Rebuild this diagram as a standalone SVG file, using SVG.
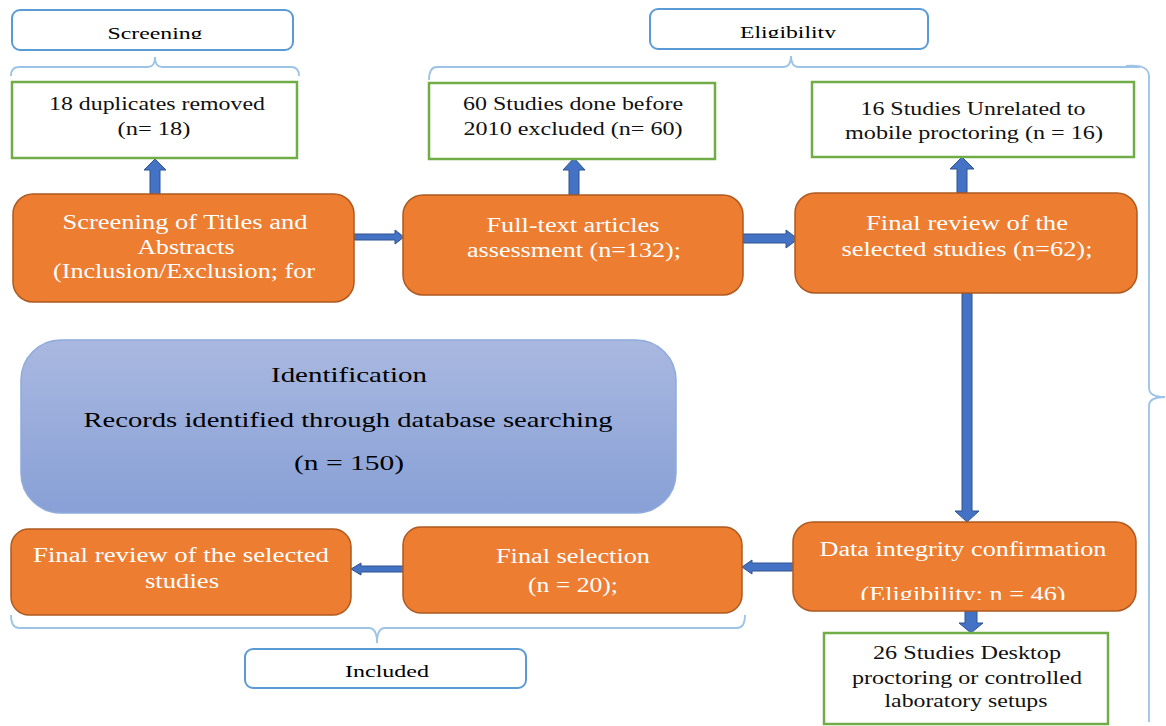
<svg xmlns="http://www.w3.org/2000/svg" width="1166" height="726" viewBox="0 0 1166 726">
<defs>
<style>
text{font-family:'Liberation Serif','DejaVu Serif','Times New Roman',serif}
.lbl{fill:#fff;stroke:#5b9bd5;stroke-width:2}
.lt{font-size:17px;fill:#000;text-anchor:middle}
.gbox{fill:#fff;stroke:#70ad47;stroke-width:2.5}
.gt{font-size:19px;fill:#111;text-anchor:middle}
.obox{fill:#ed7d31;stroke:#ae5a21;stroke-width:1.5}
.ot{font-size:20px;fill:#fff;text-anchor:middle}
.it{font-size:22px;fill:#000;text-anchor:middle}
.arr{fill:#4472c4;stroke:#2f528f;stroke-width:1}
.br{fill:none;stroke:#9dc3e6;stroke-width:1.8}
</style>
<linearGradient id="bg" x1="0" y1="0" x2="0" y2="1">
<stop offset="0" stop-color="#a9b8e0"/>
<stop offset="1" stop-color="#88a0d6"/>
</linearGradient>
<clipPath id="c1"><rect x="12" y="9" width="281" height="30"/></clipPath>
<clipPath id="c2"><rect x="650" y="9" width="278" height="29"/></clipPath>
<clipPath id="c3"><rect x="793" y="570" width="343" height="30"/></clipPath>
</defs>

<g id="connectors">
<path class="br" d="M11,76 Q11,67 19,67 L148,67 Q155,67 155,57 Q155,67 162,67 L291,67 Q299,67 299,76"/>
<path class="br" d="M429,80 Q429,67 437,67 L783,67 Q791,67 791,56 Q791,67 799,67 L1140,67"/>
<path class="br" d="M1126,66 Q1149,64 1149,76 L1149,388 Q1149,397 1165,397 Q1149,397 1149,406 L1149,722"/>
<path class="br" d="M11,615 Q11,628 19,628 L369,628 Q377,628 377,643 Q377,628 385,628 L737,628 Q745,628 745,615"/>
<polygon class="arr" points="150,195 150,170 144,170 155,159 166,170 160,170 160,195"/>
<polygon class="arr" points="569,195 569,170 563,170 574,158 585,170 579,170 579,195"/>
<polygon class="arr" points="957,193 957,169 950,169 962,157 974,169 967,169 967,193"/>
<polygon class="arr" points="354,234 395,234 395,230 404,237 395,244 395,240 354,240"/>
<polygon class="arr" points="743,234 786,234 786,230 798,239 786,248 786,243 743,243"/>
<polygon class="arr" points="962,293 962,511 955,511 967,522 979,511 972,511 972,293"/>
<polygon class="arr" points="965,611 965,623 959,623 971,633 983,623 977,623 977,611"/>
<polygon class="arr" points="797,563 752,563 752,560 742,567 752,574 752,571 797,571"/>
<polygon class="arr" points="404,566 361,566 361,563 351,569 361,575 361,572 404,572"/>
</g>

<g id="screening-label">
<rect class="lbl" x="12" y="10" width="281" height="40" rx="8"/>
<text class="lt" x="155" y="39" textLength="95" lengthAdjust="spacingAndGlyphs" clip-path="url(#c1)">Screening</text>
</g>

<g id="eligibility-label">
<rect class="lbl" x="650" y="9" width="278" height="40" rx="8"/>
<text class="lt" x="788" y="38" textLength="96" lengthAdjust="spacingAndGlyphs" clip-path="url(#c2)">Eligibility</text>
</g>

<g id="included-label">
<rect class="lbl" x="245" y="649" width="281" height="39" rx="8"/>
<text class="lt" x="387" y="677" textLength="84" lengthAdjust="spacingAndGlyphs">Included</text>
</g>

<g id="duplicates">
<rect class="gbox" x="12" y="82" width="285" height="76"/>
<text class="gt" x="157" y="110" textLength="216" lengthAdjust="spacingAndGlyphs">18 duplicates removed</text>
<text class="gt" x="154" y="135" textLength="73" lengthAdjust="spacingAndGlyphs">(n= 18)</text>
</g>

<g id="before2010">
<rect class="gbox" x="429" y="83" width="286" height="76"/>
<text class="gt" x="573" y="110" textLength="220" lengthAdjust="spacingAndGlyphs">60 Studies done before</text>
<text class="gt" x="573" y="135" textLength="219" lengthAdjust="spacingAndGlyphs">2010 excluded (n= 60)</text>
</g>

<g id="unrelated">
<rect class="gbox" x="812" y="82" width="322" height="75"/>
<text class="gt" x="973" y="115" textLength="225" lengthAdjust="spacingAndGlyphs">16 Studies Unrelated to</text>
<text class="gt" x="974" y="139" textLength="258" lengthAdjust="spacingAndGlyphs">mobile proctoring (n = 16)</text>
</g>

<g id="screening-titles">
<rect class="obox" x="13" y="194" width="341" height="108" rx="20"/>
<text class="ot" x="185" y="229" textLength="245" lengthAdjust="spacingAndGlyphs">Screening of Titles and</text>
<text class="ot" x="186" y="254" textLength="97" lengthAdjust="spacingAndGlyphs">Abstracts</text>
<text class="ot" x="184" y="278" textLength="262" lengthAdjust="spacingAndGlyphs">(Inclusion/Exclusion; for</text>
</g>

<g id="fulltext">
<rect class="obox" x="403" y="195" width="340" height="100" rx="20"/>
<text class="ot" x="573" y="232" textLength="173" lengthAdjust="spacingAndGlyphs">Full-text articles</text>
<text class="ot" x="574" y="257" textLength="214" lengthAdjust="spacingAndGlyphs">assessment (n=132);</text>
</g>

<g id="final-review-62">
<rect class="obox" x="795" y="193" width="342" height="100" rx="20"/>
<text class="ot" x="967" y="230" textLength="202" lengthAdjust="spacingAndGlyphs">Final review of the</text>
<text class="ot" x="967" y="256" textLength="251" lengthAdjust="spacingAndGlyphs">selected studies (n=62);</text>
</g>

<g id="identification">
<rect x="21" y="340" width="655" height="173" rx="40" fill="url(#bg)" stroke="#8faadc" stroke-width="1.5"/>
<text class="it" x="349" y="382" textLength="156" lengthAdjust="spacingAndGlyphs">Identification</text>
<text class="it" x="348" y="427" textLength="529" lengthAdjust="spacingAndGlyphs">Records identified through database searching</text>
<text class="it" x="349" y="470" textLength="110" lengthAdjust="spacingAndGlyphs">(n = 150)</text>
</g>

<g id="data-integrity">
<rect class="obox" x="793" y="522" width="343" height="89" rx="20"/>
<text class="ot" x="963" y="556" textLength="287" lengthAdjust="spacingAndGlyphs">Data integrity confirmation</text>
<text class="ot" x="963" y="601" textLength="205" lengthAdjust="spacingAndGlyphs" clip-path="url(#c3)">(Eligibility; n = 46)</text>
</g>

<g id="desktop">
<rect class="gbox" x="824" y="633" width="284" height="91"/>
<text class="gt" x="967" y="659" textLength="188" lengthAdjust="spacingAndGlyphs">26 Studies Desktop</text>
<text class="gt" x="967" y="684" textLength="230" lengthAdjust="spacingAndGlyphs">proctoring or controlled</text>
<text class="gt" x="966" y="707" textLength="163" lengthAdjust="spacingAndGlyphs">laboratory setups</text>
</g>

<g id="final-selection">
<rect class="obox" x="403" y="527" width="339" height="86" rx="18"/>
<text class="ot" x="573" y="563" textLength="154" lengthAdjust="spacingAndGlyphs">Final selection</text>
<text class="ot" x="573" y="592" textLength="90" lengthAdjust="spacingAndGlyphs">(n = 20);</text>
</g>

<g id="final-review">
<rect class="obox" x="11" y="529" width="340" height="86" rx="18"/>
<text class="ot" x="181" y="562" textLength="296" lengthAdjust="spacingAndGlyphs">Final review of the selected</text>
<text class="ot" x="182" y="588" textLength="74" lengthAdjust="spacingAndGlyphs">studies</text>
</g>
</svg>
